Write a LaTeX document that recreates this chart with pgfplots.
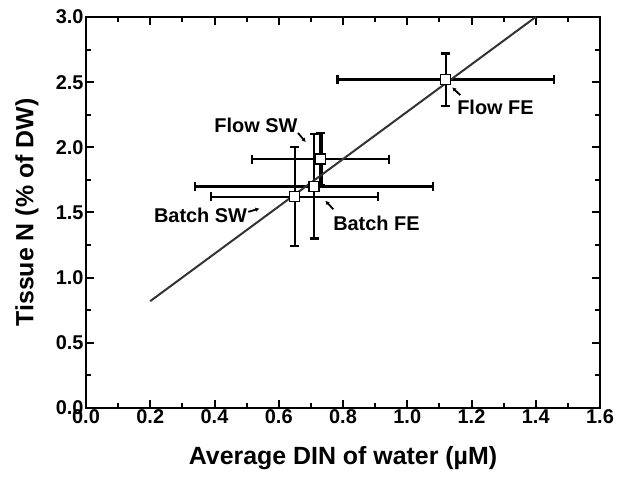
\documentclass[border=0pt]{standalone}
\usepackage{fontspec}
\setmainfont{Liberation Sans}
\usepackage{pgfplots}
\pgfplotsset{compat=1.18}
\usetikzlibrary{arrows.meta}

\begin{document}
\begin{tikzpicture}[x=1bp,y=1bp]
  % page frame: 617 x 486 with the plot area at (86,17)-(600,408)
  \path[use as bounding box] (-86,-78) rectangle (531,408);
  \begin{axis}[
      at={(0,0)}, anchor=south west,
      scale only axis,
      width=514bp, height=391bp,
      xmin=0, xmax=1.6,
      ymin=0, ymax=3.0,
      xtick={0,0.2,0.4,0.6,0.8,1.0,1.2,1.4,1.6},
      ytick={0,0.5,1.0,1.5,2.0,2.5,3.0},
      minor x tick num=1,
      minor y tick num=1,
      axis line style={line width=2bp},
      major tick length=8bp,
      minor tick length=5bp,
      every tick/.style={line width=2bp, black},
      ticklabel style={font=\bfseries\fontsize{20}{20}\selectfont},
      xticklabel style={yshift=2bp},
      yticklabel style={xshift=1bp},
      /pgf/number format/.cd, fixed, fixed zerofill, precision=1, assume math mode=true,
      /pgfplots/.cd,
      xlabel={Average DIN of water (µM)},
      ylabel={Tissue N (\% of DW)},
      label style={font=\bfseries\fontsize{25}{25}\selectfont},
      xlabel style={at={(axis description cs:0.5,-0.128)}, anchor=center},
      ylabel style={at={(axis description cs:-0.115,0.5)}, anchor=center},
      clip=false,
    ]

    % thick vertical error bar of Flow SW
    \addplot[draw=none, mark=none,
      error bars/.cd, y dir=both, y explicit,
      error bar style={line width=4bp},
      error mark options={rotate=90, mark size=4.5bp, line width=2.2bp}]
    coordinates {
      (0.73, 1.91) +- (0, 0.20)
    };

    % means with error bars
    \addplot[only marks, mark=square*, mark size=5bp,
      mark options={fill=white, draw=black, line width=1.2bp},
      error bars/.cd, x dir=both, y dir=both, x explicit, y explicit,
      error bar style={line width=2.2bp},
      error mark options={rotate=90, mark size=4.5bp, line width=2.2bp}]
    coordinates {
      (1.12, 2.52) +- (0.337, 0.20)  % Flow FE
      (0.73, 1.91) +- (0.213, 0.20)  % Flow SW
      (0.71, 1.70) +- (0.370, 0.40)  % Batch FE
      (0.65, 1.62) +- (0.260, 0.38)  % Batch SW
    };

    % regression line
    \addplot[line width=2bp, color=black!80, mark=none]
    coordinates {(0.2, 0.82) (1.4, 3.0)};

    % labels
    \tikzset{lab/.style={font=\bfseries\fontsize{20}{20}\selectfont, inner sep=1bp}}
    \node[lab] at (axis cs:0.529,2.167) {Flow SW};
    \node[lab, anchor=west] at (axis cs:1.152,2.31) {Flow FE};
    \node[lab, anchor=east] at (axis cs:0.505,1.48) {Batch SW};
    \node[lab, anchor=west] at (axis cs:0.766,1.417) {Batch FE};

    \draw[line width=1.8bp, -{Latex[length=4bp,width=4.5bp]}] (axis cs:0.660,2.110) -- (axis cs:0.684,2.040);
    \draw[line width=1.8bp, -{Latex[length=4bp,width=4.5bp]}] (axis cs:1.165,2.400) -- (axis cs:1.140,2.460);
    \draw[line width=1.8bp, -{Latex[length=4bp,width=4.5bp]}] (axis cs:0.505,1.505) -- (axis cs:0.540,1.530);
    \draw[line width=1.8bp, -{Latex[length=4bp,width=4.5bp]}] (axis cs:0.770,1.525) -- (axis cs:0.745,1.590);

  \end{axis}
\end{tikzpicture}
\end{document}
